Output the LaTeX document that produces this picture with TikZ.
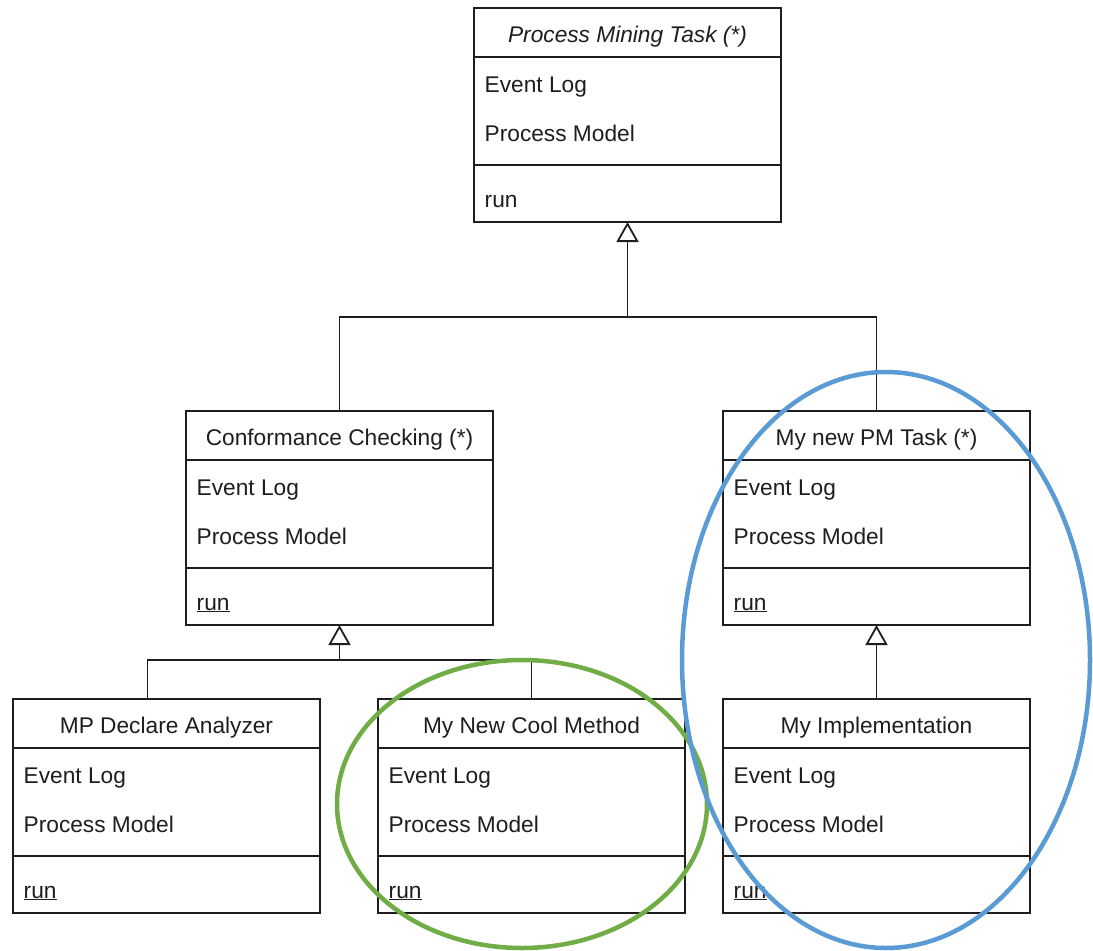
\documentclass[tikz,border=0pt]{standalone}
\usepackage{fontspec}
\setmainfont{Liberation Sans}
\usetikzlibrary{arrows.meta,shapes.geometric}
\definecolor{lineclr}{HTML}{1E1E1E}
\definecolor{hlblue}{HTML}{5B9BD5}
\definecolor{hlgreen}{HTML}{70AD47}
\newcommand\umlclassbox[6]{%
  \node[box] (#1) at (#2,#3) {};
  \draw[sep] ([yshift=-49pt]#1.north west) -- ([yshift=-49pt]#1.north east);
  \draw[sep] ([yshift=-157pt]#1.north west) -- ([yshift=-157pt]#1.north east);
  \node[txt, anchor=base] (#1-title) at ([yshift=-34pt]#1.north) {#4};
  \node[txt, anchor=base west] (#1-log) at ([xshift=10.5pt,yshift=-84pt]#1.north west) {Event Log};
  \node[txt, anchor=base west] (#1-model) at ([xshift=10.5pt,yshift=-133pt]#1.north west) {Process Model};
  \node[txt, anchor=base west] (#1-run) at ([xshift=10.5pt,yshift=-199pt]#1.north west) {#5};
}
\begin{document}
\begin{tikzpicture}[x=1pt,y=-1pt,
  box/.style={draw=lineclr, line width=1.8pt, minimum width=307pt, minimum height=214pt, inner sep=0pt, outer sep=0pt, anchor=north west},
  sep/.style={draw=lineclr, line width=1.8pt},
  txt/.style={font=\fontsize{22.7}{27}\selectfont, inner sep=0pt, text=lineclr},
  conn/.style={draw=lineclr, line width=1.8pt},
  inh/.style={conn, -{Triangle[open, width=22pt, length=20pt, line width=1.8pt]}},
  hl/.style={draw, ellipse, line width=4.5pt, inner sep=0pt}
]
\useasboundingbox (0,0) rectangle (1093,951);
\fill[white] (0,0) rectangle (1093,951);

\umlclassbox{top}{474}{8}{\itshape Process Mining Task (*)}{run}{}
\umlclassbox{cc}{186}{411}{Conformance Checking (*)}{\underline{run}}{}
\umlclassbox{pm}{723}{411}{My new PM Task (*)}{\underline{run}}{}
\umlclassbox{mp}{13}{699}{MP Declare Analyzer}{\underline{run}}{}
\umlclassbox{cool}{378}{699}{My New Cool Method}{\underline{run}}{}
\umlclassbox{impl}{723}{699}{My Implementation}{\underline{run}}{}

% generalisation: top level
\coordinate (j1) at (627.5,317);
\draw[conn] (cc.north) |- (j1);
\draw[conn] (pm.north) |- (j1);
\draw[inh] (j1) -- (top.south);

% generalisation: conformance checking
\coordinate (j2) at (339.5,660);
\coordinate (mpc) at ([xshift=-19pt]mp.north);
\draw[conn] (mpc) |- (j2);
\draw[conn] (cool.north) |- (j2);
\draw[inh] (j2) -- (cc.south);

% generalisation: my new PM task
\draw[inh] (impl.north) -- (pm.south);

% highlights
\node[hl, draw=hlgreen, minimum width=370pt, minimum height=288pt] (hlg) at (522,804) {};
\node[hl, draw=hlblue, minimum width=408pt, minimum height=576pt] (hlb) at (886,660) {};
\end{tikzpicture}
\end{document}
